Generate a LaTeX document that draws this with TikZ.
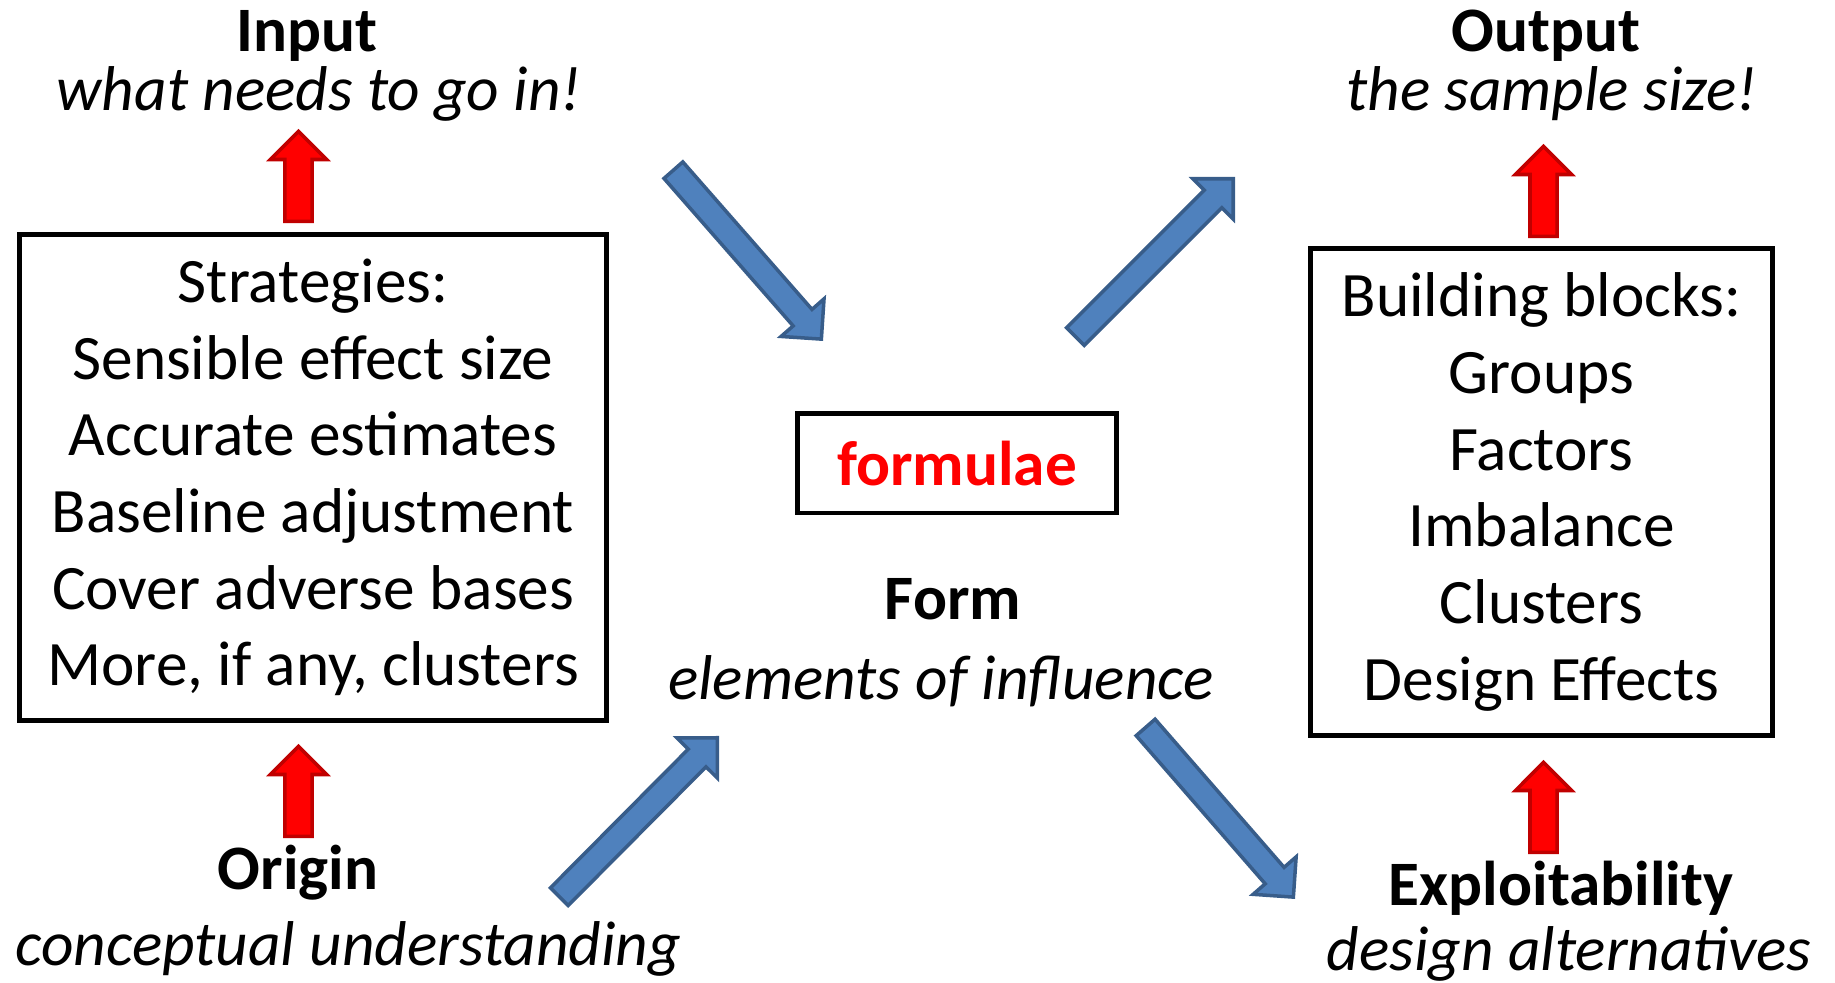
\documentclass[tikz,border=0pt]{standalone}
\usepackage{fontspec}
\setmainfont{Carlito}
\usepackage{xcolor}
\usetikzlibrary{shapes.arrows,calc}

\definecolor{arrowblue}{HTML}{4F81BD}
\definecolor{arrowblueline}{HTML}{385D8A}
\definecolor{arrowred}{HTML}{FF0000}
\definecolor{arrowredline}{HTML}{C00000}

% block arrow node laid between two points: style, name, tail, tip
\newcommand\blockarrow[4]{%
\path let \p1=(#3), \p2=(#4), \n1={atan2(\y2-\y1,\x2-\x1)}, \n2={veclen(\x2-\x1,\y2-\y1)} in
node[#1, minimum height=\n2, rotate=\n1, anchor=tip] (#2) at (#4) {};}

\begin{document}
\begin{tikzpicture}[x=0.01cm,y=-0.01cm,
txt/.style={font=\fontsize{18}{21.8}\selectfont, inner sep=0pt, align=center},
head/.style={txt, anchor=base, font=\fontsize{18}{21.8}\selectfont\bfseries},
sub/.style={txt, anchor=base, font=\fontsize{18}{21.8}\selectfont\itshape},
frame/.style={draw, line width=1.4pt},
bluearrow/.style={single arrow, draw=arrowblueline, fill=arrowblue, line width=1pt,
  inner xsep=0pt, inner ysep=0.1075cm, single arrow head extend=0.16cm},
redarrow/.style={single arrow, draw=arrowredline, fill=arrowred, line width=1pt,
  inner xsep=0pt, inner ysep=0.1175cm, single arrow head extend=0.145cm}]
\useasboundingbox (0,0) rectangle (1835,983);

% left side
\node[head] (input) at (307,52) {Input};
\node[sub] (inputsub) at (319,111) {what needs to go in!};
\node[frame, txt, minimum width=5.86cm, minimum height=4.85cm] (strat) at (313,477.5)
{Strategies:\\Sensible effect size\\Accurate estimates\\Baseline adjustment\\Cover adverse bases\\More, if any, clusters};
\node[head] (origin) at (298,890) {Origin};
\node[sub] (originsub) at (348,966) {conceptual understanding};

% middle
\node[frame, txt, minimum width=3.18cm, minimum height=0.99cm, text=red, font=\fontsize{18}{21.8}\selectfont\bfseries] (formulae) at (957,463.5) {formulae};
\node[head] (form) at (953,620) {Form};
\node[sub] (formsub) at (941,700) {elements of influence};

% right side
\node[head] (output) at (1546,52) {Output};
\node[sub] (outputsub) at (1552,111) {the sample size!};
\node[frame, txt, minimum width=4.61cm, minimum height=4.86cm] (blocks) at (1541.5,492)
{Building blocks:\\Groups\\Factors\\Imbalance\\Clusters\\Design Effects};
\node[head] (exploit) at (1561,906) {Exploitability};
\node[sub] (exploitsub) at (1569,971) {design alternatives};

% arrow ends
\coordinate (rIns) at (298.5,219); \coordinate (rIne) at (298.5,129);
\coordinate (rOrs) at (298.5,834); \coordinate (rOre) at (298.5,744);
\coordinate (rOus) at (1543.5,234); \coordinate (rOue) at (1543.5,144);
\coordinate (rExs) at (1543.5,850); \coordinate (rExe) at (1543.5,760);
\coordinate (b1s) at (675,172); \coordinate (b1e) at (823,341);
\coordinate (b2s) at (1077,335); \coordinate (b2e) at (1235,177);
\coordinate (b3s) at (561,895); \coordinate (b3e) at (719,736);
\coordinate (b4s) at (1147,729); \coordinate (b4e) at (1295,899);

\blockarrow{redarrow}{upin}{rIns}{rIne}
\blockarrow{redarrow}{uporigin}{rOrs}{rOre}
\blockarrow{redarrow}{upout}{rOus}{rOue}
\blockarrow{redarrow}{upexploit}{rExs}{rExe}
\blockarrow{bluearrow}{toform}{b1s}{b1e}
\blockarrow{bluearrow}{tooutput}{b2s}{b2e}
\blockarrow{bluearrow}{fromorigin}{b3s}{b3e}
\blockarrow{bluearrow}{toexploit}{b4s}{b4e}
\end{tikzpicture}
\end{document}
